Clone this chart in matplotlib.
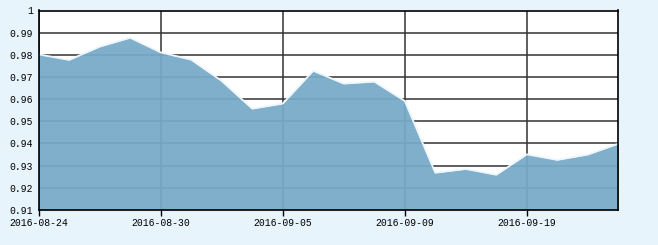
import matplotlib
matplotlib.use('Agg')
import matplotlib.pyplot as plt

# trading days (x categories) and values
dates = ['2016-08-24', '2016-08-25', '2016-08-26', '2016-08-29', '2016-08-30',
         '2016-08-31', '2016-09-01', '2016-09-02', '2016-09-05', '2016-09-06',
         '2016-09-07', '2016-09-08', '2016-09-09', '2016-09-12', '2016-09-13',
         '2016-09-14', '2016-09-19', '2016-09-20', '2016-09-21', '2016-09-22']
values = [0.9802, 0.9777, 0.9837, 0.9877, 0.9811,
          0.9778, 0.9682, 0.9557, 0.9580, 0.9728,
          0.9670, 0.9679, 0.9592, 0.9268, 0.9285,
          0.9259, 0.9351, 0.9326, 0.9350, 0.9399]
y_ticks = [0.91, 0.92, 0.93, 0.94, 0.95, 0.96, 0.97, 0.98, 0.99, 1.0]
y_labels = ['0.91', '0.92', '0.93', '0.94', '0.95', '0.96', '0.97', '0.98', '0.99', '1']
x_label_idx = [0, 4, 8, 12, 16]

W, H = 658, 245
fig = plt.figure(figsize=(W / 100, H / 100), dpi=100)
fig.patch.set_facecolor('#e8f4fc')
ax = fig.add_axes([38.7 / W, (H - 210) / H, (618.3 - 38.7) / W, (210 - 10.5) / H])
ax.set_facecolor('white')

x = list(range(len(values)))
ax.fill_between(x, 0.91, values, color='#77aac8', alpha=0.94, linewidth=0, zorder=3)
ax.plot(x, values, color='#eef6fc', linewidth=1.3, zorder=4)

ax.set_xlim(0, len(values) - 1)
ax.set_ylim(0.91, 1.0)
ax.set_xticks(x_label_idx)
ax.set_xticklabels([dates[i] for i in x_label_idx])
ax.set_yticks(y_ticks)
ax.set_yticklabels(y_labels)
ax.grid(True, color='#333333', linewidth=1.1, zorder=1)
ax.set_axisbelow(True)

for s in ax.spines.values():
    s.set_color('black')
    s.set_linewidth(1.2)
    s.set_zorder(5)

ax.tick_params(axis='x', length=4, width=1, direction='out', pad=2, colors='black')
ax.tick_params(axis='y', length=0, pad=4, colors='black')
for lab in ax.get_xticklabels() + ax.get_yticklabels():
    lab.set_fontfamily('Liberation Mono')
    lab.set_fontsize(7)

fig.savefig('out.png', dpi=100, facecolor=fig.get_facecolor())
